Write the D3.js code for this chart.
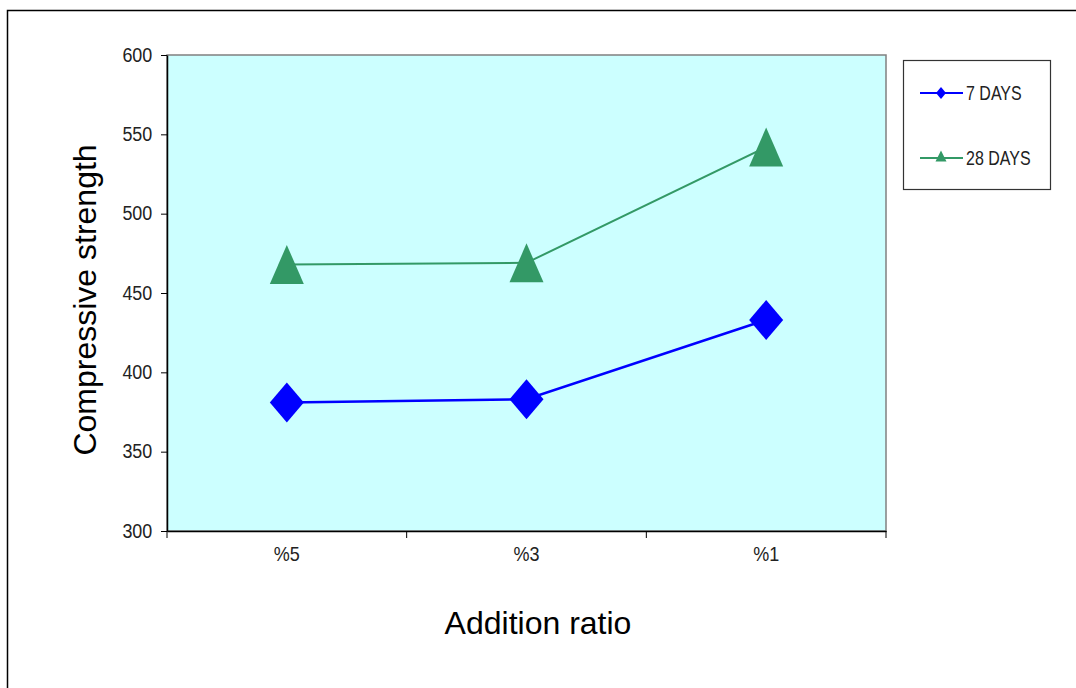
<!DOCTYPE html>
<html>
<head>
<meta charset="utf-8">
<script src="https://cdn.jsdelivr.net/npm/d3@7"></script>
<style>
  body { margin: 0; background: #fff; }
  svg { display: block; font-family: "Liberation Sans", Arial, sans-serif; }
</style>
</head>
<body>
<div id="chart"></div>
<script>
const categories = ["%5", "%3", "%1"];
const days7 = [381, 383, 433];
const days28 = [468, 469, 542];
const yTicks = [300, 350, 400, 450, 500, 550, 600];
const seriesNames = ["7 DAYS", "28 DAYS"];

const width = 1076, height = 688;
const plot = { left: 167, top: 55, right: 886, bottom: 531 };

// marker shapes drawn in a w x h box centred on the point
const diamond = (w, h) => ({ draw(ctx) {
    ctx.moveTo(0, -h / 2); ctx.lineTo(w / 2, 0); ctx.lineTo(0, h / 2); ctx.lineTo(-w / 2, 0); ctx.closePath();
}});
const triangle = (w, h) => ({ draw(ctx) {
    ctx.moveTo(0, -h / 2); ctx.lineTo(w / 2, h / 2); ctx.lineTo(-w / 2, h / 2); ctx.closePath();
}});

const svg = d3.select("#chart").append("svg")
    .attr("width", width)
    .attr("height", height);

// outer frame
svg.append("path")
    .attr("d", `M7.5,${height} V10.5 H${width}`)
    .attr("fill", "none")
    .attr("stroke", "#000")
    .attr("stroke-width", 1.5);

const x = d3.scaleBand().domain(categories).range([plot.left, plot.right]);
const y = d3.scaleLinear().domain([300, 600]).range([plot.bottom, plot.top]);

svg.append("rect")
    .attr("x", plot.left).attr("y", plot.top)
    .attr("width", plot.right - plot.left).attr("height", plot.bottom - plot.top)
    .attr("fill", "#ccffff")
    .attr("stroke", "#808080")
    .attr("stroke-width", 1.5);

// y axis
const yAxis = svg.append("g")
    .attr("transform", `translate(${plot.left},0)`)
    .call(d3.axisLeft(y).tickValues(yTicks).tickSize(6).tickPadding(10).tickSizeOuter(0));
yAxis.select(".domain").attr("stroke", "#000").attr("stroke-width", 1.5);
yAxis.selectAll("text").attr("font-size", 19.5).attr("fill", "#222")
    .attr("transform", "scale(0.92,1)");

// x axis
const xAxis = svg.append("g")
    .attr("transform", `translate(0,${plot.bottom})`)
    .call(d3.axisBottom(x).tickSize(0).tickPadding(16));
xAxis.select(".domain").attr("stroke", "#000").attr("stroke-width", 1.5);
xAxis.selectAll(".tick text").attr("font-size", 20).attr("fill", "#222")
    .attr("transform", "scale(0.9,1)");
xAxis.selectAll(".sep")
    .data(categories.map(c => x(c)).concat([x(categories[categories.length - 1]) + x.bandwidth()]))
    .join("line")
    .attr("class", "sep")
    .attr("x1", d => d).attr("x2", d => d)
    .attr("y1", 0).attr("y2", 7)
    .attr("stroke", "#000");

// axis titles
svg.append("text")
    .attr("transform", `translate(96,300) rotate(-90)`)
    .attr("text-anchor", "middle")
    .attr("font-size", 32)
    .text("Compressive strength");
svg.append("text")
    .attr("x", 538)
    .attr("y", 634)
    .attr("text-anchor", "middle")
    .attr("font-size", 32)
    .text("Addition ratio");

const cx = c => x(c) + x.bandwidth() / 2;
const line = d3.line().x((d, i) => cx(categories[i])).y(d => y(d));

const series = [
    { name: seriesNames[0], values: days7, color: "#0000ff", shape: diamond(34, 40), legendShape: diamond(10, 12), lw: 2.5 },
    { name: seriesNames[1], values: days28, color: "#339966", shape: triangle(34, 39), legendShape: triangle(11, 11), lw: 2 }
];

series.forEach(s => {
    svg.append("path")
        .attr("d", line(s.values))
        .attr("fill", "none")
        .attr("stroke", s.color)
        .attr("stroke-width", s.lw);
    svg.selectAll(null)
        .data(s.values)
        .join("path")
        .attr("transform", (d, i) => `translate(${cx(categories[i])},${y(d)})`)
        .attr("d", d3.symbol().type(s.shape))
        .attr("fill", s.color);
});

// legend
const legend = svg.append("g");
legend.append("rect")
    .attr("x", 903.5).attr("y", 60.5)
    .attr("width", 147).attr("height", 129)
    .attr("fill", "#fff")
    .attr("stroke", "#333")
    .attr("stroke-width", 1.2);
series.forEach((s, i) => {
    const ly = 93 + i * 65;
    legend.append("line")
        .attr("x1", 920).attr("x2", 963)
        .attr("y1", ly).attr("y2", ly)
        .attr("stroke", s.color).attr("stroke-width", 2);
    legend.append("path")
        .attr("transform", `translate(941,${ly - (i === 1 ? 2 : 0)})`)
        .attr("d", d3.symbol().type(s.legendShape))
        .attr("fill", s.color);
    legend.append("text")
        .attr("transform", `translate(966,${ly + 7}) scale(0.82,1)`)
        .attr("font-size", 19.5)
        .attr("fill", "#222")
        .text(s.name);
});
</script>
</body>
</html>
